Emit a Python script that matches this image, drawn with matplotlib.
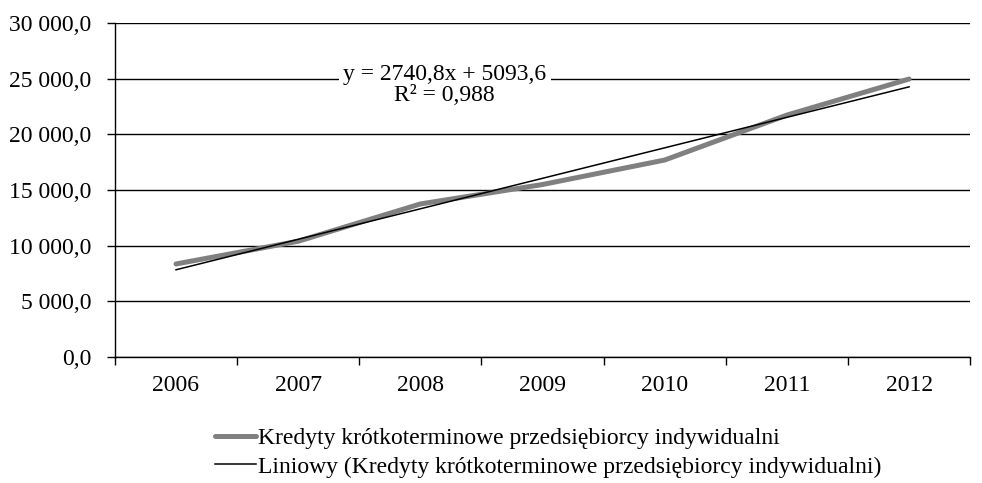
import matplotlib
matplotlib.use('Agg')
import matplotlib.pyplot as plt
import numpy as np

plt.rcParams['font.family'] = ['Liberation Serif', 'DejaVu Serif']

# data
years = ['2006', '2007', '2008', '2009', '2010', '2011', '2012']
credits = [8356, 10400, 13750, 15500, 17700, 21740, 24980]
trend_a = 2740.8
trend_b = 5093.6
eq_text = 'y = 2740,8x + 5093,6\nR² = 0,988'
label_series = 'Kredyty krótkoterminowe przedsiębiorcy indywidualni'
label_trend = 'Liniowy (Kredyty krótkoterminowe przedsiębiorcy indywidualni)'

def fmt(v, pos=None):
    s = '{:,.1f}'.format(v).replace(',', ' ').replace('.', ',')
    return s

fig = plt.figure(figsize=(9.82, 4.83), dpi=100, facecolor='white')
ax = fig.add_axes([0.117, 0.261, 0.871, 0.691])

x = np.arange(1, len(years) + 1)
ax.plot(x, credits, color='#808080', linewidth=3.6, solid_capstyle='round',
        label=label_series, zorder=3)
trend = trend_a * x + trend_b
ax.plot(x, trend, color='black', linewidth=1.1, label=label_trend, zorder=4)

ax.set_xlim(0.5, 7.5)
ax.set_ylim(0, 30000)
ax.set_yticks(np.arange(0, 30001, 5000))
ax.yaxis.set_major_formatter(matplotlib.ticker.FuncFormatter(fmt))
ax.set_xticks(x)
ax.set_xticklabels(years)
ax.set_xticks(np.arange(0.5, 8.0, 1.0), minor=True)
ax.tick_params(axis='x', which='major', length=0, pad=13, labelsize=17)
ax.tick_params(axis='x', which='minor', length=6, width=1, direction='out')
ax.tick_params(axis='y', length=6, width=1, direction='out', labelsize=17, pad=11)
ax.grid(axis='y', color='black', linewidth=1, zorder=1)
ax.set_axisbelow(True)
for s in ['top', 'right']:
    ax.spines[s].set_visible(False)
ax.spines['left'].set_linewidth(1)
ax.spines['bottom'].set_linewidth(1)

ax.text(3.2, 24400, eq_text, ha='center', va='center', fontsize=17,
        linespacing=1.0, bbox=dict(facecolor='white', edgecolor='none', pad=3),
        zorder=5)

fig.legend(loc='upper left', bbox_to_anchor=(0.219, 0.115), frameon=False,
           fontsize=17, handlelength=1.75, handletextpad=0.05, labelspacing=0.3,
           borderpad=0, borderaxespad=0, ncol=1)

fig.savefig('out.png', dpi=100)
